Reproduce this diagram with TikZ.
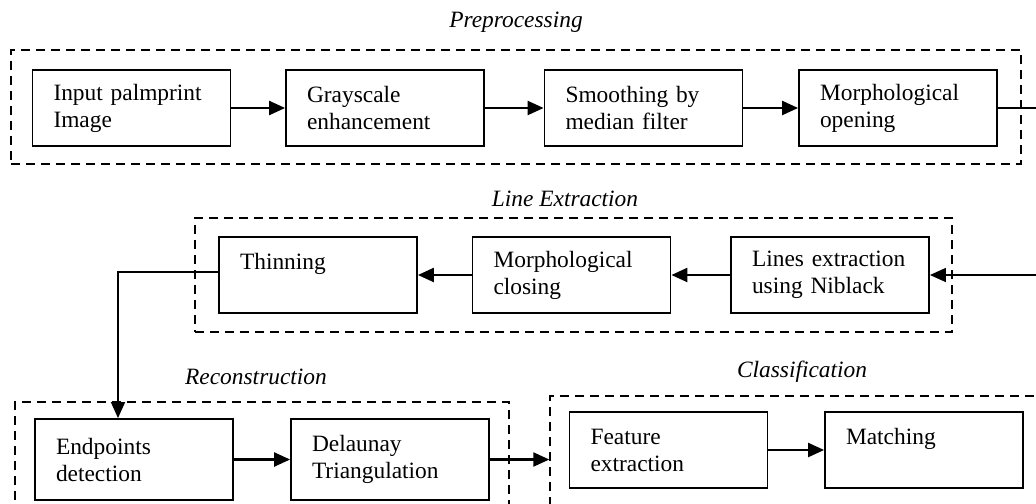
\documentclass[tikz,border=0pt]{standalone}
\usepackage{fontspec}
\setmainfont{Liberation Serif}
\usetikzlibrary{positioning,arrows.meta}

\begin{document}
\begin{tikzpicture}[x=0.5pt,y=-0.5pt,
  font=\fontsize{11.7}{13.5}\selectfont,
  box/.style={draw,line width=0.9pt,text width=78pt,inner xsep=10.5pt,inner ysep=0pt,minimum height=38pt,align=left},
  frame/.style={draw,line width=0.7pt,dash pattern=on 4.5pt off 3pt},
  stage/.style={font=\fontsize{11.7}{13.5}\selectfont\itshape},
  flow/.style={line width=1.1pt,-{Triangle[length=8pt,width=7pt]}},
  link/.style={line width=0.7pt,-{Triangle[length=8pt,width=7pt]}}]
\useasboundingbox (0,0) rectangle (1036,503);
\clip (0,0) rectangle (1036,503);

% stage frames
\node[frame,minimum width=505pt,minimum height=57pt] (preFrame) at (516,107) {};
\node[frame,minimum width=378.5pt,minimum height=57pt] (lineFrame) at (573.5,275) {};
\node[frame,minimum width=247pt,minimum height=69pt] (recFrame) at (262,471) {};
\node[frame,minimum width=265pt,minimum height=72pt] (clsFrame) at (815,468) {};

\node[stage] (preLabel) at (516,22) {Preprocessing};
\node[stage] (lineLabel) at (565,199) {Line Extraction};
\node[stage] (recLabel) at (256,377) {Reconstruction};
\node[stage] (clsLabel) at (802,372) {Classification};

% preprocessing
\node[box] (input) at (131.5,108) {Input palmprint\\Image};
\node[box] (gray) at (385,108) {Grayscale\\enhancement};
\node[box] (smooth) at (643.5,108) {Smoothing by\\median filter};
\node[box] (open) at (898,108) {Morphological\\opening};

% line extraction
\node[box] (thin) at (318,275) {Thinning\\\mbox{}};
\node[box] (close) at (571.5,275) {Morphological\\closing};
\node[box] (niblack) at (830,275) {Lines extraction\\using Niblack};

% reconstruction and classification
\node[box,minimum height=40.5pt] (endp) at (134,459.5) {Endpoints\\detection};
\node[box,minimum height=40.5pt] (delaunay) at (390,459.5) {Delaunay\\Triangulation};
\node[box] (feature) at (668.5,450) {Feature\\extraction};
\node[box] (match) at (924,450) {Matching\\\mbox{}};

\coordinate (turn) at (1050,190);
\coordinate (bend) at (118,272);

\draw[flow] (input) -- (gray);
\draw[flow] (gray) -- (smooth);
\draw[flow] (smooth) -- (open);
\draw[link] (open.east) -| (turn) |- (niblack.east);
\draw[flow] (niblack) -- (close);
\draw[flow] (close) -- (thin);
\draw[link] (thin.west |- bend) -- (bend) -- (bend |- endp.north);
\draw[flow] (endp) -- (delaunay);
\draw[flow] (delaunay.east) -- (delaunay.east -| clsFrame.west);
\draw[flow] (feature) -- (match);
\end{tikzpicture}
\end{document}
